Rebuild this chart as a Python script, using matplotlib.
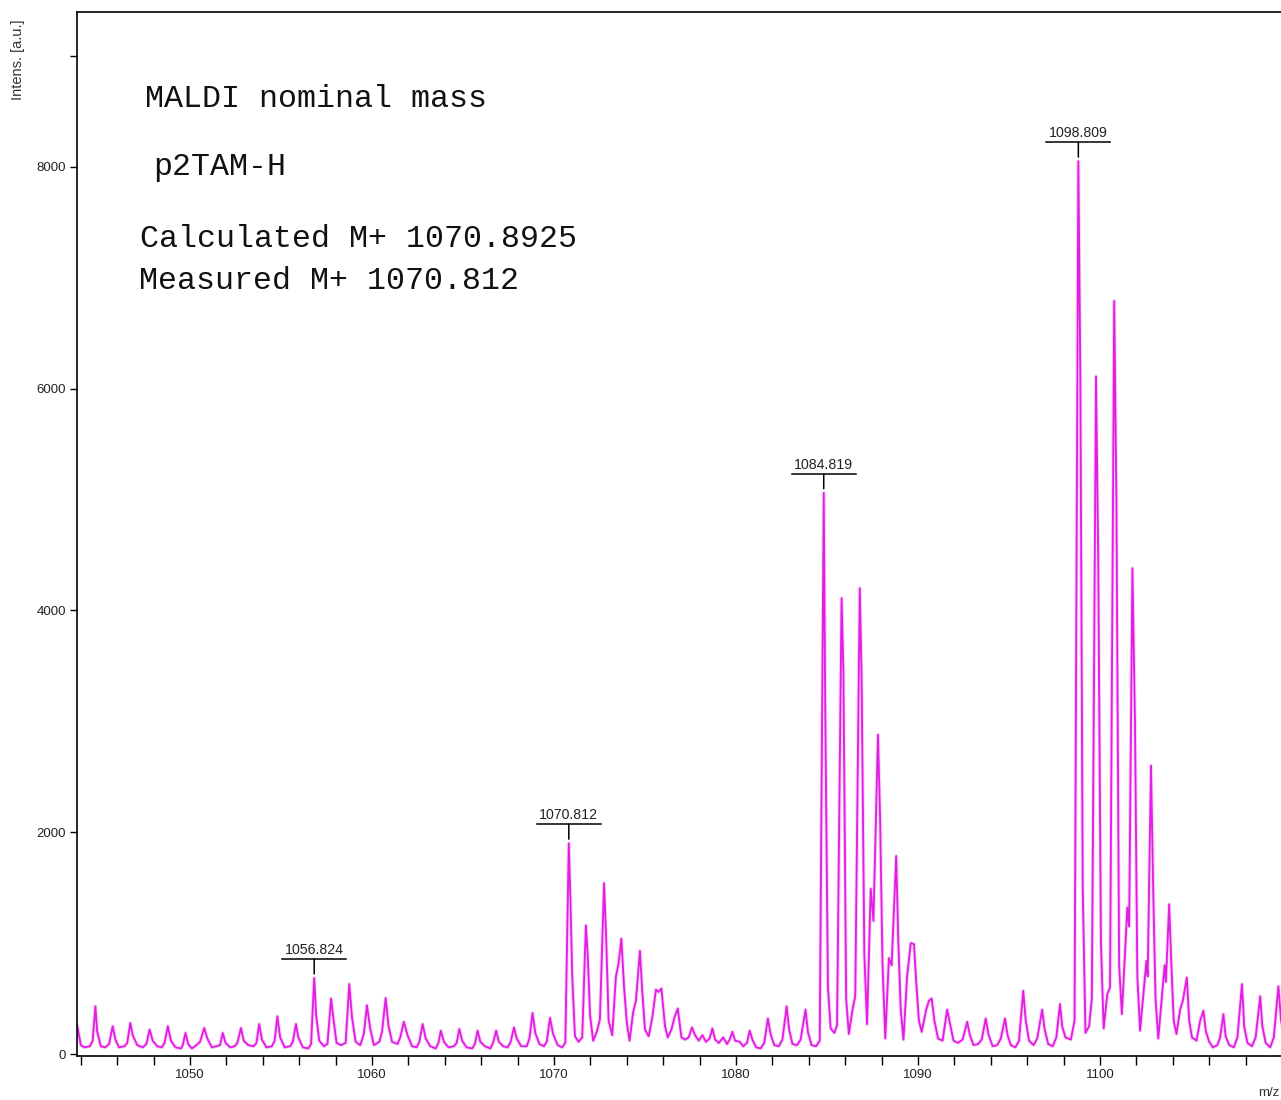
import numpy as np
import matplotlib.pyplot as plt
from matplotlib.transforms import ScaledTranslation

# MALDI spectrum trace: m/z vs intensity (valleys, shoulders and peak tops)
mz = [
    1043.8, 1044.0, 1044.2, 1044.5, 1044.65, 1044.8, 1044.9, 1045.1, 1045.35, 1045.55,
    1045.75, 1045.9, 1046.1, 1046.4, 1046.55, 1046.72, 1046.85, 1047.1, 1047.4, 1047.6,
    1047.78, 1047.95, 1048.2, 1048.45, 1048.6, 1048.78, 1048.95, 1049.2, 1049.5, 1049.6,
    1049.75, 1049.9, 1050.1, 1050.35, 1050.55, 1050.78, 1050.95, 1051.2, 1051.45, 1051.65,
    1051.8, 1051.95, 1052.2, 1052.45, 1052.6, 1052.8, 1052.95, 1053.2, 1053.5, 1053.65,
    1053.8, 1053.95, 1054.2, 1054.5, 1054.65, 1054.8, 1054.95, 1055.2, 1055.5, 1055.65,
    1055.82, 1055.95, 1056.2, 1056.5, 1056.65, 1056.824, 1056.93, 1057.1, 1057.35, 1057.55,
    1057.75, 1057.87, 1058.05, 1058.3, 1058.55, 1058.75, 1058.9, 1059.1, 1059.35, 1059.55,
    1059.72, 1059.9, 1060.1, 1060.4, 1060.55, 1060.75, 1060.9, 1061.1, 1061.4, 1061.55,
    1061.75, 1061.95, 1062.2, 1062.45, 1062.6, 1062.78, 1062.95, 1063.2, 1063.5, 1063.65,
    1063.78, 1063.95, 1064.2, 1064.5, 1064.65, 1064.8, 1064.95, 1065.2, 1065.5, 1065.65,
    1065.8, 1065.95, 1066.2, 1066.5, 1066.65, 1066.82, 1066.97, 1067.2, 1067.45, 1067.62,
    1067.8, 1067.95, 1068.2, 1068.5, 1068.65, 1068.82, 1068.97, 1069.2, 1069.45, 1069.6,
    1069.78, 1069.95, 1070.2, 1070.45, 1070.62, 1070.812, 1070.9, 1071.0, 1071.15, 1071.35,
    1071.55, 1071.75, 1071.85, 1071.98, 1072.15, 1072.35, 1072.52, 1072.75, 1072.87, 1073.0,
    1073.2, 1073.4, 1073.55, 1073.7, 1073.85, 1074.0, 1074.15, 1074.35, 1074.5, 1074.72,
    1074.85, 1075.0, 1075.2, 1075.4, 1075.6, 1075.75, 1075.9, 1076.1, 1076.25, 1076.45,
    1076.62, 1076.8, 1077.0, 1077.2, 1077.4, 1077.58, 1077.75, 1077.95, 1078.15, 1078.35,
    1078.55, 1078.7, 1078.85, 1079.05, 1079.3, 1079.5, 1079.65, 1079.8, 1079.95, 1080.2,
    1080.4, 1080.6, 1080.75, 1080.9, 1081.1, 1081.35, 1081.55, 1081.75, 1081.9, 1082.1,
    1082.35, 1082.55, 1082.78, 1082.92, 1083.1, 1083.35, 1083.55, 1083.82, 1083.95, 1084.15,
    1084.4, 1084.6, 1084.819, 1084.9, 1085.05, 1085.2, 1085.4, 1085.55, 1085.8, 1085.9,
    1086.05, 1086.2, 1086.4, 1086.55, 1086.8, 1086.9, 1087.05, 1087.2, 1087.4, 1087.55,
    1087.8, 1087.92, 1088.05, 1088.2, 1088.4, 1088.55, 1088.8, 1088.92, 1089.05, 1089.2,
    1089.4, 1089.6, 1089.78, 1089.9, 1090.05, 1090.2, 1090.45, 1090.6, 1090.75, 1090.9,
    1091.1, 1091.35, 1091.6, 1091.75, 1091.95, 1092.2, 1092.45, 1092.7, 1092.85, 1093.05,
    1093.3, 1093.5, 1093.72, 1093.88, 1094.1, 1094.35, 1094.55, 1094.78, 1094.92, 1095.1,
    1095.35, 1095.55, 1095.78, 1095.92, 1096.1, 1096.35, 1096.55, 1096.82, 1096.95, 1097.15,
    1097.4, 1097.6, 1097.8, 1097.92, 1098.1, 1098.4, 1098.6, 1098.809, 1098.92, 1099.05,
    1099.2, 1099.4, 1099.55, 1099.78, 1099.9, 1100.05, 1100.2, 1100.4, 1100.55, 1100.78,
    1100.9, 1101.05, 1101.2, 1101.5, 1101.6, 1101.78, 1101.92, 1102.05, 1102.2, 1102.55,
    1102.62, 1102.8, 1102.92, 1103.05, 1103.2, 1103.55, 1103.62, 1103.8, 1103.92, 1104.05,
    1104.2, 1104.4, 1104.55, 1104.77, 1104.9, 1105.05, 1105.3, 1105.5, 1105.68, 1105.82,
    1106.0, 1106.2, 1106.45, 1106.6, 1106.78, 1106.9, 1107.1, 1107.35, 1107.55, 1107.8,
    1107.92, 1108.1, 1108.35, 1108.55, 1108.8, 1108.92, 1109.1, 1109.35, 1109.55, 1109.8,
    1109.95, 1110.2, 1110.5,
]
intens = [
    260, 80, 60, 70, 120, 430, 200, 70, 60, 90,
    250, 130, 60, 70, 100, 280, 170, 80, 60, 90,
    220, 120, 70, 60, 100, 250, 120, 60, 50, 80,
    190, 90, 50, 80, 110, 235, 140, 60, 70, 80,
    190, 100, 60, 70, 100, 235, 120, 80, 70, 100,
    270, 130, 60, 70, 120, 340, 150, 60, 70, 110,
    270, 150, 60, 50, 90, 685, 350, 120, 70, 90,
    500, 330, 100, 80, 100, 630, 330, 110, 80, 180,
    440, 230, 80, 110, 200, 505, 260, 110, 90, 150,
    290, 170, 70, 60, 110, 270, 140, 70, 50, 100,
    210, 110, 60, 70, 100, 225, 120, 60, 50, 90,
    210, 110, 70, 50, 100, 210, 110, 70, 60, 110,
    240, 140, 70, 70, 140, 370, 190, 90, 70, 110,
    325, 180, 80, 60, 100, 1900, 1400, 700, 160, 110,
    150, 1160, 900, 350, 120, 200, 310, 1540, 1020, 300,
    170, 700, 820, 1040, 600, 280, 120, 380, 480, 930,
    560, 220, 160, 330, 580, 560, 590, 250, 150, 220,
    330, 410, 150, 130, 150, 240, 170, 120, 170, 110,
    140, 230, 130, 100, 150, 90, 130, 200, 120, 110,
    70, 100, 210, 130, 60, 50, 100, 320, 180, 80,
    70, 130, 430, 220, 90, 80, 130, 400, 200, 80,
    70, 120, 5060, 3150, 600, 230, 190, 260, 4110, 3450,
    500, 180, 400, 520, 4200, 3400, 900, 270, 1490, 1200,
    2880, 2100, 800, 140, 865, 800, 1785, 1000, 400, 130,
    700, 1000, 990, 650, 300, 200, 400, 480, 500, 300,
    140, 120, 400, 280, 120, 100, 130, 290, 170, 80,
    90, 130, 320, 170, 70, 80, 140, 320, 170, 80,
    60, 120, 570, 300, 120, 80, 140, 400, 230, 90,
    70, 150, 450, 250, 150, 130, 300, 8050, 6100, 1500,
    190, 250, 500, 6110, 4500, 1000, 230, 540, 600, 6790,
    5000, 800, 360, 1320, 1150, 4380, 3000, 700, 210, 840,
    700, 2600, 1500, 500, 140, 800, 650, 1350, 800, 300,
    180, 400, 480, 690, 300, 150, 120, 300, 390, 200,
    110, 60, 80, 150, 360, 160, 80, 60, 150, 630,
    250, 100, 70, 150, 520, 250, 100, 60, 150, 610,
    300, 100, 80,
]

# labelled peaks
peak_labels = ["1056.824", "1070.812", "1084.819", "1098.809"]
peak_mz = [1056.824, 1070.812, 1084.819, 1098.809]

info_lines = ["MALDI nominal mass", "p2TAM-H", "Calculated M+ 1070.8925", "Measured M+ 1070.812"]

W, H = 1281, 1100
fig = plt.figure(figsize=(W / 100, H / 100), dpi=100)
ax = fig.add_axes([77 / W, 44 / H, 1213 / W, 1044 / H])

# light pink halo under the trace, then the trace itself
ax.plot(mz, intens, color="#f9d6f9", lw=2.8, solid_joinstyle="round")
ax.plot(mz, intens, color="#e31ee3", lw=1.35, solid_joinstyle="round")

ax.set_xlim(1043.79, 1043.79 + 1213 / 18.2)
ax.set_ylim(-18, 9396)

ax.set_xticks(np.arange(1050, 1101, 10))
ax.set_xticks(np.arange(1044, 1111, 2), minor=True)
ax.set_xticklabels([str(v) for v in range(1050, 1101, 10)])
ax.set_yticks([0, 2000, 4000, 6000, 8000, 9000])
ax.set_yticklabels(["0", "2000", "4000", "6000", "8000", ""])

for lab in ax.get_xticklabels() + ax.get_yticklabels():
    lab.set_fontfamily("Liberation Sans")
    lab.set_fontsize(9.5)
    lab.set_color("#222222")
ax.tick_params(axis="x", which="both", direction="out", length=6.5, width=1.0, pad=2.5)
ax.tick_params(axis="y", which="both", direction="out", length=5, width=1.0, pad=3)

for side in ["left", "bottom", "top"]:
    ax.spines[side].set_linewidth(1.2)
ax.spines["right"].set_visible(False)

# peak annotations: bar + tick above each labelled peak
px = 1 / 100
for lab, m in zip(peak_labels, peak_mz):
    top = np.interp(m, mz, intens)
    bar_tr = ax.transData + ScaledTranslation(0, 19 * px, fig.dpi_scale_trans)
    ax.plot([m - 1.75, m + 1.75], [top, top], color="black", lw=1.1, transform=bar_tr)
    ax.annotate("", xy=(m, top), xytext=(0, 19 * 0.72), textcoords="offset points",
                arrowprops=dict(arrowstyle="-", lw=1.1, color="black", shrinkA=0, shrinkB=3))
    ax.annotate(lab, xy=(m, top), xytext=(0, 24 * 0.72), textcoords="offset points",
                ha="center", va="baseline", fontsize=10.2, family="Liberation Sans",
                color="#222222")

# sample / mass info in monospace
text_x = [145, 153, 140, 139]
text_base = [107, 175, 247, 289]
for s, x, y in zip(info_lines, text_x, text_base):
    fig.text(x / W, 1 - y / H, s, fontsize=22.8, family="Liberation Mono",
             ha="left", va="baseline", color="#111111")

fig.text(18 / W, 1 - 60 / H, "Intens. [a.u.]", rotation=90, ha="center", va="center",
         fontsize=10.5, family="Liberation Sans", color="#333333")
fig.text(1258 / W, 1 - 1093 / H, "m/z", ha="left", va="center",
         fontsize=9.5, family="Liberation Sans", color="#333333")

fig.savefig("out.png", dpi=100)
